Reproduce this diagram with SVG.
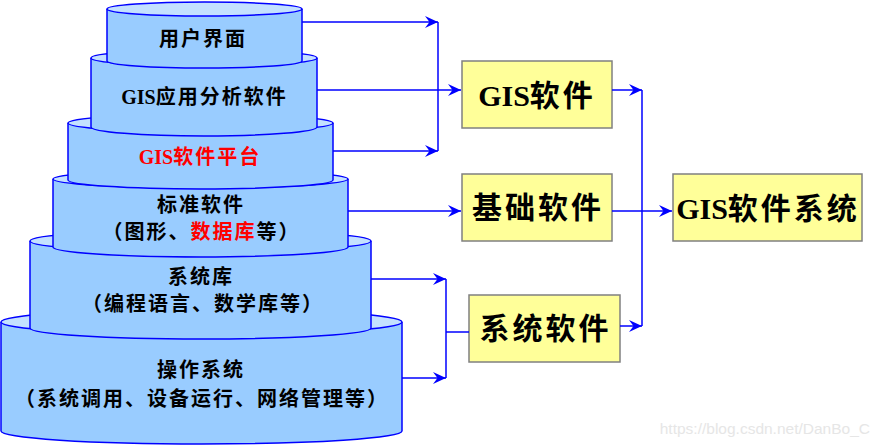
<svg xmlns="http://www.w3.org/2000/svg" width="880" height="447" viewBox="0 0 880 447">
<style>
.body{fill:#99CCFF;stroke:#0000FF;stroke-width:1.5}
.top{fill:#C4E1FF;stroke:#0000FF;stroke-width:1.5}
.ct{font-family:"Liberation Serif","Noto Sans CJK SC",serif;font-weight:bold;font-size:20px;letter-spacing:2px;fill:#000;text-anchor:middle;dominant-baseline:central}
.lat{letter-spacing:0}
.red{fill:#FF0000}
.box{fill:#FFFF99;stroke:#808080;stroke-width:1.5}
.bt{font-family:"Liberation Serif","Noto Sans CJK SC",serif;font-weight:bold;font-size:30px;letter-spacing:3px;fill:#000;text-anchor:middle;dominant-baseline:central}
.ln{fill:none;stroke:#0000FF;stroke-width:1.5}
.wm{font-family:"Liberation Sans",Arial,sans-serif;font-size:15.5px;fill:#E6E6E6;text-anchor:end}
</style>
<defs>
<marker id="ah" markerUnits="userSpaceOnUse" markerWidth="16" markerHeight="14" viewBox="-14 -7 16 14" refX="0" refY="0" orient="auto">
<path d="M0,0 L-13,-6 L-8.5,0 L-13,6 Z" fill="#0000FF"/>
</marker>
</defs>

<g id="cyl-os">
<path class="body" d="M1,322 V431 A200.5,13 0 0 0 402,431 V322"/>
<ellipse class="top" cx="201.5" cy="322" rx="200.5" ry="13"/>
</g>
<g id="cyl-syslib">
<path class="body" d="M30,241 V328 A170.5,11 0 0 0 371,328 V241"/>
<ellipse class="top" cx="200.5" cy="241" rx="170.5" ry="11"/>
</g>
<g id="cyl-std">
<path class="body" d="M53,179 V247 A147.5,10 0 0 0 348,247 V179"/>
<ellipse class="top" cx="200.5" cy="179" rx="147.5" ry="9"/>
</g>
<g id="cyl-platform">
<path class="body" d="M68,123 V180 A132.5,9 0 0 0 333,180 V123"/>
<ellipse class="top" cx="200.5" cy="123" rx="132.5" ry="9"/>
</g>
<g id="cyl-app">
<path class="body" d="M91,58 V127 A113,9 0 0 0 317,127 V58"/>
<ellipse class="top" cx="204" cy="58" rx="113" ry="8"/>
</g>
<g id="cyl-ui">
<path class="body" d="M107,9 V61 A97.5,7 0 0 0 302,61 V9"/>
<ellipse class="top" cx="204.5" cy="9" rx="97.5" ry="7"/>
</g>

<g id="cyl-texts">
<text class="ct" x="203" y="38.5">用户界面</text>
<text class="ct" x="204.5" y="96.5"><tspan class="lat">GIS</tspan>应用分析软件</text>
<text class="ct red" x="200" y="156.5"><tspan class="lat">GIS</tspan>软件平台</text>
<text class="ct" x="201" y="205">标准软件</text>
<text class="ct" x="201.5" y="232">（图形、<tspan class="red">数据库</tspan>等）</text>
<text class="ct" x="201" y="276.5">系统库</text>
<text class="ct" x="203" y="304">（编程语言、数学库等）</text>
<text class="ct" x="201" y="370">操作系统</text>
<text class="ct" x="202" y="398.5">（系统调用、设备运行、网络管理等）</text>
</g>

<g id="node-gis-sw">
<rect class="box" x="462" y="61" width="150" height="67"/>
<text class="bt" x="537" y="95"><tspan class="lat">GIS</tspan>软件</text>
</g>
<g id="node-base-sw">
<rect class="box" x="462" y="174" width="150" height="67"/>
<text class="bt" x="538" y="207.5">基础软件</text>
</g>
<g id="node-sys-sw">
<rect class="box" x="469" y="295" width="151" height="67"/>
<text class="bt" x="545.5" y="328.5">系统软件</text>
</g>
<g id="node-gis-system">
<rect class="box" x="673" y="174" width="189" height="67"/>
<text class="bt" x="768" y="208"><tspan class="lat">GIS</tspan>软件系统</text>
</g>

<g id="connectors">
<line class="ln" x1="302" y1="22" x2="438" y2="22" marker-end="url(#ah)"/>
<line class="ln" x1="333" y1="151" x2="438" y2="151" marker-end="url(#ah)"/>
<line class="ln" x1="438" y1="22" x2="438" y2="151"/>
<line class="ln" x1="317" y1="90" x2="461" y2="90" marker-end="url(#ah)"/>
<line class="ln" x1="348" y1="211" x2="461" y2="211" marker-end="url(#ah)"/>
<line class="ln" x1="371" y1="279" x2="446" y2="279" marker-end="url(#ah)"/>
<line class="ln" x1="402" y1="378" x2="446" y2="378" marker-end="url(#ah)"/>
<line class="ln" x1="446" y1="279" x2="446" y2="378"/>
<line class="ln" x1="446" y1="332" x2="469" y2="332"/>
<line class="ln" x1="612" y1="90" x2="642" y2="90" marker-end="url(#ah)"/>
<line class="ln" x1="620" y1="326" x2="642" y2="326" marker-end="url(#ah)"/>
<line class="ln" x1="642" y1="90" x2="642" y2="326"/>
<line class="ln" x1="612" y1="211" x2="672" y2="211" marker-end="url(#ah)"/>
</g>

<text class="wm" x="870" y="434">https://blog.csdn.net/DanBo_C</text>
</svg>
